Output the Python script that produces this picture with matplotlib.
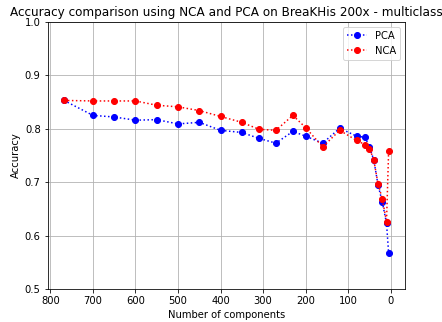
import matplotlib
matplotlib.use("Agg")
import matplotlib.pyplot as plt

n_components = [768, 700, 650, 600, 550, 500, 450, 400, 350, 310, 270, 230,
                200, 160, 120, 80, 60, 50, 40, 30, 20, 10, 5]
pca_acc = [0.853, 0.825, 0.822, 0.816, 0.817, 0.809, 0.812, 0.797, 0.793, 0.782,
           0.773, 0.795, 0.786, 0.773, 0.801, 0.786, 0.784, 0.765, 0.742, 0.695,
           0.663, 0.623, 0.567]
nca_acc = [0.853, 0.852, 0.852, 0.852, 0.844, 0.841, 0.834, 0.823, 0.812, 0.799,
           0.797, 0.825, 0.802, 0.766, 0.797, 0.778, 0.770, 0.763, 0.742, 0.697,
           0.669, 0.626, 0.759]

fig = plt.figure(figsize=(442 / 72, 322 / 72), dpi=72)
ax = fig.add_axes([0.108, 0.1025, 0.808, 0.8295])

ax.plot(n_components, pca_acc, color='blue', linestyle=':', marker='o', label="PCA")
ax.plot(n_components, nca_acc, color='red', linestyle=':', marker='o', label="NCA")

ax.set_ylim(0.5, 1.0)
ax.invert_xaxis()
ax.set_xlabel("Number of components")
ax.set_ylabel("Accuracy")
ax.set_title("Accuracy comparison using NCA and PCA on BreaKHis 200x - multiclass")
ax.grid(True)
ax.legend(loc='upper right')

fig.savefig("out.png", dpi=72)
